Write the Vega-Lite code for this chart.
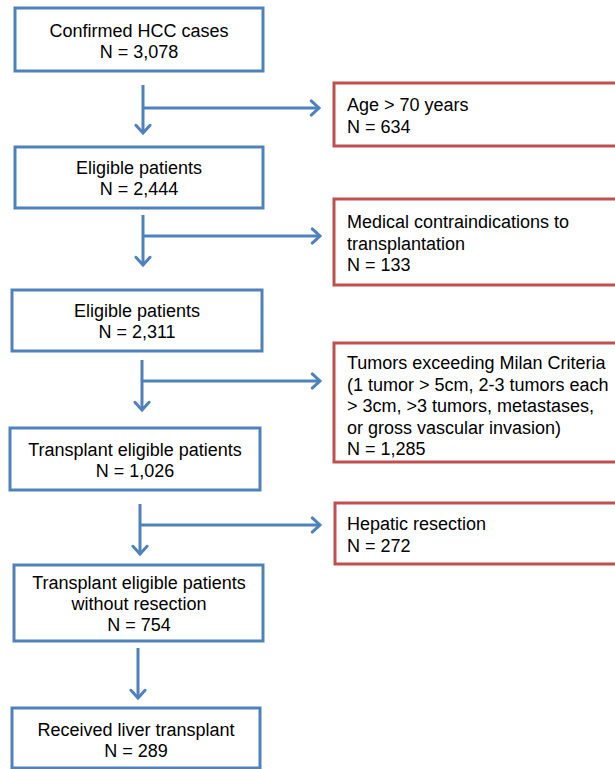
{
  "$schema": "https://vega.github.io/schema/vega-lite/v6.json",
  "width": 615,
  "height": 769,
  "autosize": {"type": "none"},
  "padding": 0,
  "background": "white",
  "config": {"view": {"stroke": null}},
  "datasets": {
    "boxes": [
      {"kind": "main", "x": 15, "x2": 263, "y": 8, "y2": 71, "tx": 139, "ty": 32, "label": ["Confirmed HCC cases", "N = 3,078"]},
      {"kind": "main", "x": 15, "x2": 263, "y": 147, "y2": 208, "tx": 139, "ty": 169, "label": ["Eligible patients", "N = 2,444"]},
      {"kind": "main", "x": 12, "x2": 262, "y": 290, "y2": 351, "tx": 137, "ty": 312, "label": ["Eligible patients", "N = 2,311"]},
      {"kind": "main", "x": 10, "x2": 260, "y": 428, "y2": 490, "tx": 135, "ty": 451, "label": ["Transplant eligible patients", "N = 1,026"]},
      {"kind": "main", "x": 14, "x2": 263, "y": 565, "y2": 641, "tx": 139, "ty": 584, "label": ["Transplant eligible patients", "without resection", "N = 754"]},
      {"kind": "main", "x": 12, "x2": 260, "y": 708, "y2": 768, "tx": 136, "ty": 731, "label": ["Received liver transplant", "N = 289"]},
      {"kind": "excl", "x": 334, "x2": 622, "y": 83, "y2": 146, "tx": 347, "ty": 106, "label": ["Age > 70 years", "N = 634"]},
      {"kind": "excl", "x": 334, "x2": 622, "y": 199, "y2": 285, "tx": 347, "ty": 223, "label": ["Medical contraindications to", "transplantation", "N = 133"]},
      {"kind": "excl", "x": 334, "x2": 622, "y": 343, "y2": 462, "tx": 347, "ty": 364, "label": ["Tumors exceeding Milan Criteria", "(1 tumor > 5cm, 2-3 tumors each", "> 3cm, >3 tumors, metastases,", "or gross vascular invasion)", "N = 1,285"]},
      {"kind": "excl", "x": 335, "x2": 622, "y": 503, "y2": 564, "tx": 347, "ty": 525, "label": ["Hepatic resection", "N = 272"]}
    ],
    "lines": [
      {"x": 143, "x2": 143, "y": 85, "y2": 132},
      {"x": 143, "x2": 318, "y": 108, "y2": 108},
      {"x": 143, "x2": 143, "y": 215, "y2": 264},
      {"x": 143, "x2": 319, "y": 236, "y2": 236},
      {"x": 142, "x2": 142, "y": 360, "y2": 409},
      {"x": 142, "x2": 319, "y": 381, "y2": 381},
      {"x": 140, "x2": 140, "y": 504, "y2": 553},
      {"x": 140, "x2": 319, "y": 525, "y2": 525},
      {"x": 138, "x2": 138, "y": 648, "y2": 697}
    ],
    "downHeads": [
      {"x": 143, "y": 133},
      {"x": 143, "y": 265},
      {"x": 142, "y": 410},
      {"x": 140, "y": 554},
      {"x": 138, "y": 698}
    ],
    "rightHeads": [
      {"x": 319, "y": 108},
      {"x": 320, "y": 236},
      {"x": 320, "y": 381},
      {"x": 320, "y": 525}
    ]
  },
  "layer": [
    {
      "data": {"name": "boxes"},
      "mark": {"type": "rect", "fill": "white", "strokeWidth": 3},
      "encoding": {
        "x": {"field": "x", "type": "quantitative", "scale": {"domain": [0, 615], "nice": false, "zero": false}, "axis": null},
        "x2": {"field": "x2"},
        "y": {"field": "y", "type": "quantitative", "scale": {"domain": [0, 769], "nice": false, "zero": false, "reverse": true}, "axis": null},
        "y2": {"field": "y2"},
        "stroke": {"field": "kind", "type": "nominal", "scale": {"domain": ["main", "excl"], "range": ["#4F81BD", "#C0504D"]}, "legend": null}
      }
    },
    {
      "data": {"name": "lines"},
      "mark": {"type": "rule", "color": "#4F81BD", "strokeWidth": 3},
      "encoding": {
        "x": {"field": "x", "type": "quantitative"},
        "x2": {"field": "x2"},
        "y": {"field": "y", "type": "quantitative"},
        "y2": {"field": "y2"}
      }
    },
    {
      "data": {"name": "downHeads"},
      "mark": {"type": "point", "shape": "M-1,-1.1L0,0L1,-1.1", "filled": false, "stroke": "#4F81BD", "strokeWidth": 3, "size": 200, "opacity": 1, "strokeCap": "round"},
      "encoding": {
        "x": {"field": "x", "type": "quantitative"},
        "y": {"field": "y", "type": "quantitative"}
      }
    },
    {
      "data": {"name": "rightHeads"},
      "mark": {"type": "point", "shape": "M-1.1,-1L0,0L-1.1,1", "filled": false, "stroke": "#4F81BD", "strokeWidth": 3, "size": 200, "opacity": 1, "strokeCap": "round"},
      "encoding": {
        "x": {"field": "x", "type": "quantitative"},
        "y": {"field": "y", "type": "quantitative"}
      }
    },
    {
      "data": {"name": "boxes"},
      "transform": [{"filter": "datum.kind === 'main'"}],
      "mark": {"type": "text", "align": "center", "baseline": "middle", "font": "Liberation Sans", "fontSize": 18, "lineHeight": 21, "color": "black"},
      "encoding": {
        "x": {"field": "tx", "type": "quantitative"},
        "y": {"field": "ty", "type": "quantitative"},
        "text": {"field": "label"}
      }
    },
    {
      "data": {"name": "boxes"},
      "transform": [{"filter": "datum.kind === 'excl'"}],
      "mark": {"type": "text", "align": "left", "baseline": "middle", "font": "Liberation Sans", "fontSize": 18, "lineHeight": 21.5, "color": "black"},
      "encoding": {
        "x": {"field": "tx", "type": "quantitative"},
        "y": {"field": "ty", "type": "quantitative"},
        "text": {"field": "label"}
      }
    }
  ]
}
